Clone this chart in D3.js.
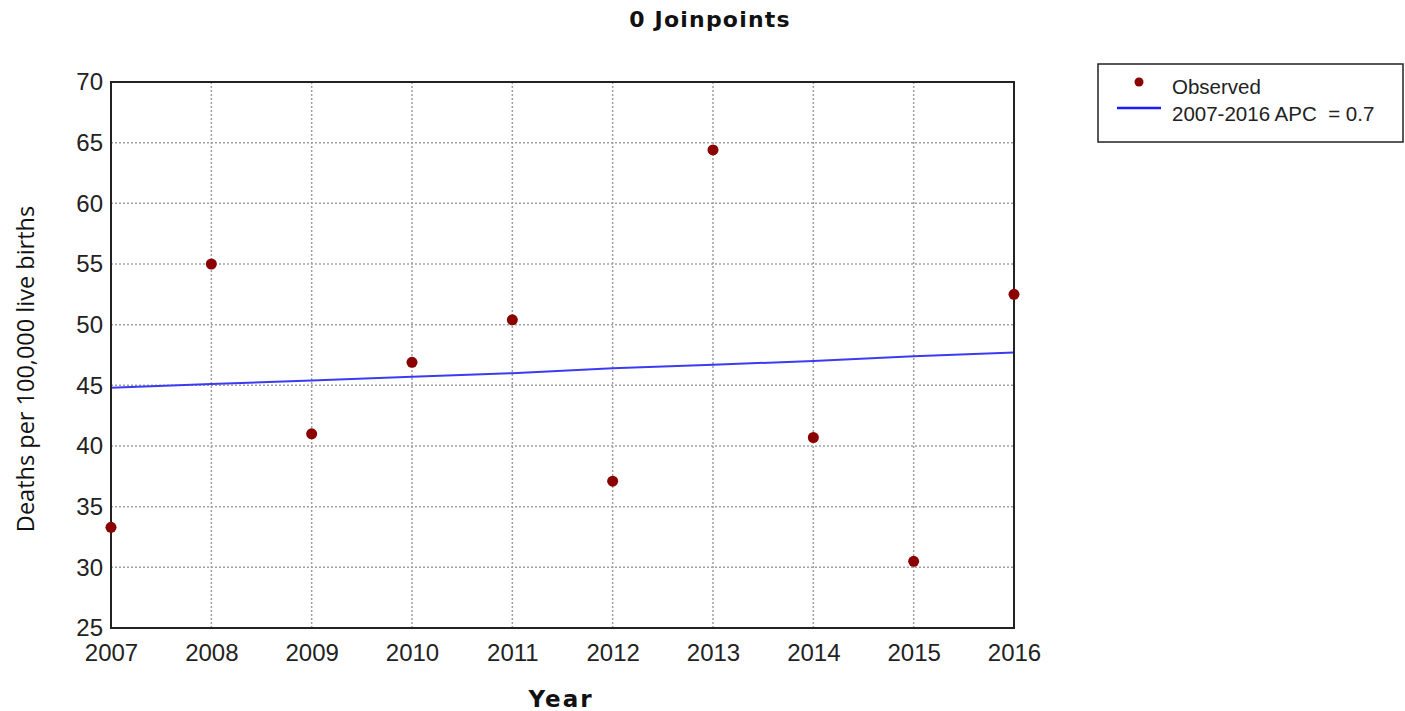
<!DOCTYPE html>
<html lang="en">
<head>
<meta charset="UTF-8">
<title>0 Joinpoints</title>
<script src="https://d3js.org/d3.v7.min.js"></script>
<style>
  body { margin: 0; background: #fff; }
  svg { display: block; }
  .tick text { font-family: "Liberation Sans", Arial, sans-serif; font-size: 24px; fill: #222; }
  .grid line { stroke: #a0a0a0; stroke-width: 1.5; stroke-dasharray: 2 2; }
</style>
</head>
<body>
<svg width="1405" height="711"></svg>
<script>
const years = [2007, 2008, 2009, 2010, 2011, 2012, 2013, 2014, 2015, 2016];
const observed = [33.3, 55.0, 41.0, 46.9, 50.4, 37.1, 64.4, 40.7, 30.5, 52.5];
const fitted = [44.8, 45.1, 45.4, 45.7, 46.0, 46.4, 46.7, 47.0, 47.4, 47.7];
const yTicks = [25, 30, 35, 40, 45, 50, 55, 60, 65, 70];
const legendLabels = ["Observed", "2007-2016 APC  = 0.7"];

const svg = d3.select("svg");
const margin = { left: 111, right: 1014, top: 82, bottom: 628 };

const x = d3.scaleLinear().domain([2007, 2016]).range([margin.left, margin.right]);
const y = d3.scaleLinear().domain([25, 70]).range([margin.bottom, margin.top]);

// grid
const grid = svg.append("g").attr("class", "grid");
grid.selectAll(".v").data(years.slice(1, -1)).join("line")
  .attr("x1", d => x(d)).attr("x2", d => x(d))
  .attr("y1", margin.top).attr("y2", margin.bottom);
grid.selectAll(".h").data(yTicks.slice(1, -1)).join("line")
  .attr("x1", margin.left).attr("x2", margin.right)
  .attr("y1", d => y(d)).attr("y2", d => y(d));

// axes
const xAxis = svg.append("g")
  .attr("transform", `translate(0,${margin.bottom})`)
  .call(d3.axisBottom(x).tickValues(years).tickFormat(d3.format("d")).tickSize(0).tickPadding(16));
xAxis.select(".domain").remove();

const yAxis = svg.append("g")
  .attr("transform", `translate(${margin.left},0)`)
  .call(d3.axisLeft(y).tickValues(yTicks).tickSize(0).tickPadding(8));
yAxis.select(".domain").remove();

// trend line
svg.append("path")
  .datum(years.map((yr, i) => [yr, fitted[i]]))
  .attr("fill", "none")
  .attr("stroke", "#3b3bf5")
  .attr("stroke-width", 2)
  .attr("d", d3.line().x(d => x(d[0])).y(d => y(d[1])));

// frame
svg.append("rect")
  .attr("x", margin.left).attr("y", margin.top)
  .attr("width", margin.right - margin.left).attr("height", margin.bottom - margin.top)
  .attr("fill", "none").attr("stroke", "#222").attr("stroke-width", 2);

// observed points
svg.append("g").selectAll("circle")
  .data(years.map((yr, i) => [yr, observed[i]]))
  .join("circle")
  .attr("cx", d => x(d[0])).attr("cy", d => y(d[1]))
  .attr("r", 5.5)
  .attr("fill", "#8b0000");

// titles
svg.append("text")
  .attr("x", 710).attr("y", 27)
  .attr("text-anchor", "middle")
  .attr("font-family", "'DejaVu Sans', Verdana, sans-serif")
  .attr("font-weight", "bold").attr("font-size", 22)
  .attr("letter-spacing", 1.2)
  .attr("fill", "#111")
  .text("0 Joinpoints");

svg.append("text")
  .attr("x", 561).attr("y", 707)
  .attr("text-anchor", "middle")
  .attr("font-family", "'DejaVu Sans', Verdana, sans-serif")
  .attr("font-weight", "bold").attr("font-size", 23)
  .attr("letter-spacing", 2)
  .attr("fill", "#111")
  .text("Year");

svg.append("text")
  .attr("transform", "translate(34,369) rotate(-90)")
  .attr("text-anchor", "middle")
  .attr("font-family", "'Open Sans', 'Noto Sans', sans-serif")
  .attr("font-size", 23.5)
  .attr("fill", "#111")
  .text("Deaths per 100,000 live births");

// legend
const lg = svg.append("g");
lg.append("rect")
  .attr("x", 1098).attr("y", 64).attr("width", 305).attr("height", 78)
  .attr("fill", "#fff").attr("stroke", "#222").attr("stroke-width", 1.5);
lg.append("circle").attr("cx", 1139).attr("cy", 82).attr("r", 4.5).attr("fill", "#8b0000");
lg.append("line").attr("x1", 1117).attr("x2", 1161).attr("y1", 108).attr("y2", 108)
  .attr("stroke", "#1a1aff").attr("stroke-width", 2.5);
lg.selectAll("text.lbl").data(legendLabels).join("text")
  .attr("x", 1172).attr("y", (d, i) => 94 + i * 27)
  .attr("font-family", "'Liberation Sans', Arial, sans-serif")
  .attr("font-size", 20.5)
  .attr("fill", "#222")
  .style("white-space", "pre")
  .text(d => d);
</script>
</body>
</html>
